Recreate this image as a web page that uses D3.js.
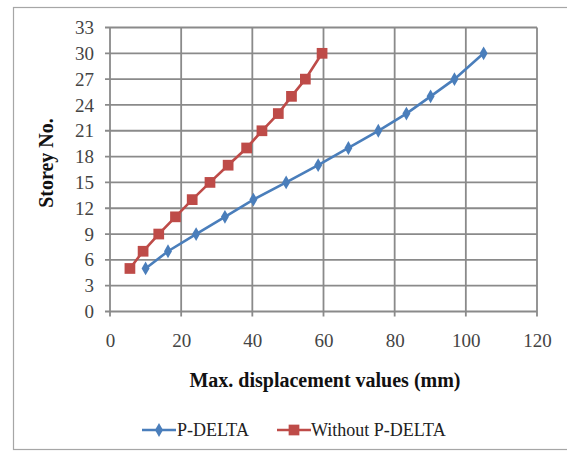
<!DOCTYPE html>
<html><head><meta charset="utf-8">
<script src="https://cdn.jsdelivr.net/npm/d3@7"></script>
<style>body{margin:0;background:#fff}svg{display:block}</style>
</head><body>
<script>
const storeys = [5,7,9,11,13,15,17,19,21,23,25,27,30];
const pDelta = [10.0,16.3,24.2,32.3,40.3,49.5,58.5,67.0,75.4,83.3,90.1,96.8,105.0];
const withoutPDelta = [5.6,9.3,13.7,18.4,23.1,28.1,33.2,38.4,42.7,47.3,51.0,54.9,59.6];
const xTicks = [0,20,40,60,80,100,120];
const yTicks = [0,3,6,9,12,15,18,21,24,27,30,33];
const seriesNames = ["P-DELTA","Without P-DELTA"];
const colors = ["#4a7ebb","#be4b48"];

const W=567,H=452;
const svg=d3.select("body").append("svg").attr("width",W).attr("height",H);
svg.append("rect").attr("x",13.5).attr("y",7.5).attr("width",W).attr("height",442).attr("fill","#fff").attr("stroke","#a6a6a6").attr("stroke-width",1.2);

const x=d3.scaleLinear().domain([0,120]).range([110,537]);
const y=d3.scaleLinear().domain([0,33]).range([311.5,27.5]);
const font="Liberation Serif, serif";

// grid
const g=svg.append("g");
g.selectAll(".hg").data(yTicks).join("line").attr("x1",x(0)-5).attr("x2",x(120)).attr("y1",d=>y(d)).attr("y2",d=>y(d)).attr("stroke","#8a8a8a").attr("stroke-width",1.8);
g.selectAll(".vg").data(xTicks).join("line").attr("x1",d=>x(d)).attr("x2",d=>x(d)).attr("y1",y(33)).attr("y2",y(0)+5).attr("stroke","#8a8a8a").attr("stroke-width",1.8);

// axes labels via d3 axes
const yAxis=svg.append("g").attr("transform",`translate(${x(0)},0)`).call(d3.axisLeft(y).tickValues(yTicks).tickSize(0).tickPadding(16));
const xAxis=svg.append("g").attr("transform",`translate(0,${y(0)})`).call(d3.axisBottom(x).tickValues(xTicks).tickSize(0).tickPadding(22));
[yAxis,xAxis].forEach(a=>{a.attr("font-family",null).attr("font-size",null);a.select(".domain").remove();a.selectAll("text").style("font-family",font).style("font-size","19px").attr("fill","#444");});

svg.append("text").attr("transform",`translate(53,163) rotate(-90)`).attr("text-anchor","middle").style("font-family",font).attr("font-weight","bold").style("font-size","20px").attr("fill","#111").text("Storey No.");
svg.append("text").attr("x",325).attr("y",387).attr("text-anchor","middle").style("font-family",font).attr("font-weight","bold").style("font-size","20px").attr("fill","#111").text("Max. displacement values (mm)");

const line=d3.line().x(d=>x(d[0])).y(d=>y(d[1]));
const data=[pDelta.map((v,i)=>[v,storeys[i]]), withoutPDelta.map((v,i)=>[v,storeys[i]])];
const diamond=d3.symbol().type(d3.symbolDiamond).size(55);
const square=d3.symbol().type(d3.symbolSquare).size(115);

data.forEach((pts,k)=>{
  svg.append("path").datum(pts).attr("d",line).attr("fill","none").attr("stroke",colors[k]).attr("stroke-width",2.6);
  svg.selectAll(".m"+k).data(pts).join("path").attr("transform",d=>`translate(${x(d[0])},${y(d[1])})`).attr("d",k===0?diamond:square).attr("fill",colors[k]);
});

// legend
const leg=[{x1:142,x2:176,tx:177},{x1:277,x2:311,tx:311}];
leg.forEach((l,k)=>{
  svg.append("line").attr("x1",l.x1).attr("x2",l.x2).attr("y1",430).attr("y2",430).attr("stroke",colors[k]).attr("stroke-width",2.6);
  svg.append("path").attr("transform",`translate(${(l.x1+l.x2)/2},430)`).attr("d",k===0?diamond:square).attr("fill",colors[k]);
  svg.append("text").attr("x",l.tx).attr("y",436).style("font-family",font).style("font-size","18px").attr("fill","#222").text(seriesNames[k]);
});
</script>
</body></html>
